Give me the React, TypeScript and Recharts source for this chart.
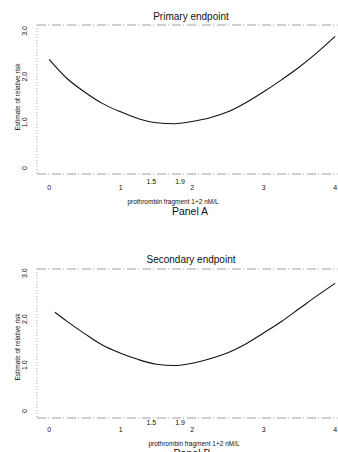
import React from "react";
import { LineChart, Line, XAxis, YAxis, ReferenceLine } from "recharts";

const xTicks = [0, 1, 1.5, 1.9, 2, 3, 4];
const yTicks = [0, 1, 2, 3];
const yTickLabels: Record<number, string> = { 0: "0", 1: "1.0", 2: "2.0", 3: "3.0" };

const primaryX = [0, 0.25, 0.5, 0.75, 1, 1.25, 1.5, 1.75, 2, 2.25, 2.5, 2.75, 3, 3.25, 3.5, 3.75, 4];
const primaryRisk = [2.38, 1.96, 1.66, 1.41, 1.23, 1.08, 0.99, 0.97, 1.02, 1.1, 1.23, 1.43, 1.67, 1.93, 2.21, 2.53, 2.88];

const secondaryX = [0.08, 0.25, 0.5, 0.75, 1, 1.25, 1.5, 1.75, 2, 2.25, 2.5, 2.75, 3, 3.25, 3.5, 3.75, 4];
const secondaryRisk = [2.15, 1.95, 1.68, 1.43, 1.26, 1.12, 1.02, 0.99, 1.04, 1.14, 1.27, 1.46, 1.7, 1.95, 2.23, 2.51, 2.78];

const titles = ["Primary endpoint", "Secondary endpoint"];
const xLabel = "prothrombin fragment 1+2 nM/L";
const yLabel = "Estimate of relative risk";
const panelLabels = ["Panel A", "Panel B"];

const FONT = "'Liberation Sans', Arial, Helvetica, sans-serif";
const DOT = "#a0a0a0";

const XTick = (props: any) => {
  const { x, y, payload, mainDy, minorDy } = props;
  const v = payload.value;
  const minor = v === 1.5 || v === 1.9;
  return (
    <text
      x={x + (minor ? -5 : 0)}
      y={y + (minor ? minorDy : mainDy)}
      textAnchor="middle"
      fontSize={7}
      fontFamily={FONT}
      fill="#111"
      stroke="none"
    >
      {String(v)}
    </text>
  );
};

const YTick = (props: any) => {
  const { y, payload } = props;
  return (
    <text
      transform={`translate(26.5, ${y}) rotate(-90)`}
      textAnchor="middle"
      fontSize={7}
      fontFamily={FONT}
      fill="#111"
      stroke="none"
    >
      {yTickLabels[payload.value] ?? String(payload.value)}
    </text>
  );
};

type PanelProps = {
  xs: number[];
  ys: number[];
  top: number;
  marginTop: number;
  xAxisHeight: number;
  yDomain: [number, number];
  mainDy: number;
  minorDy: number;
};

const Panel = ({ xs, ys, top, marginTop, xAxisHeight, yDomain, mainDy, minorDy }: PanelProps) => {
  const data = xs.map((x, i) => ({ x, risk: ys[i] }));
  return (
    <div style={{ position: "absolute", left: 0, top, width: 338, height: 226 }}>
      <LineChart width={338} height={226} data={data} margin={{ top: marginTop, right: 0, bottom: 0, left: 0 }}>
        <XAxis
          dataKey="x"
          type="number"
          domain={[-0.17, 4.04]}
          ticks={xTicks}
          interval={0}
          allowDataOverflow
          height={xAxisHeight}
          tickLine={false}
          tickSize={0}
          tickMargin={0}
          axisLine={{ stroke: DOT, strokeDasharray: "9 2 1 3", strokeWidth: 1 }}
          tick={<XTick mainDy={mainDy} minorDy={minorDy} />}
        />
        <YAxis
          type="number"
          domain={yDomain}
          ticks={yTicks}
          interval={0}
          allowDataOverflow
          width={37}
          tickLine={false}
          tickSize={0}
          tickMargin={0}
          axisLine={{ stroke: DOT, strokeDasharray: "1 2", strokeWidth: 1 }}
          tick={<YTick />}
        />
        <ReferenceLine y={yDomain[1]} stroke={DOT} strokeDasharray="9 2 1 3" strokeWidth={1} ifOverflow="visible" />
        <Line
          type="monotone"
          dataKey="risk"
          stroke="#111"
          strokeWidth={1.1}
          dot={false}
          isAnimationActive={false}
        />
      </LineChart>
    </div>
  );
};

export default function App() {
  return (
    <div style={{ position: "absolute", left: 0, top: 0, width: 338, height: 452, overflow: "hidden", background: "#fff" }}>
      <Panel
        xs={primaryX}
        ys={primaryRisk}
        top={0}
        marginTop={25}
        xAxisHeight={52}
        yDomain={[-0.13, 3.13]}
        mainDy={16}
        minorDy={10}
      />
      <Panel
        xs={secondaryX}
        ys={secondaryRisk}
        top={226}
        marginTop={43}
        xAxisHeight={34}
        yDomain={[-0.15, 3.09]}
        mainDy={14}
        minorDy={7}
      />
      <svg width={338} height={452} style={{ position: "absolute", left: 0, top: 0, pointerEvents: "none" }}>
        <g fontFamily={FONT} fill="#111">
          <text x={191} y={20} textAnchor="middle" fontSize={10}>{titles[0]}</text>
          <text x={173} y={204} textAnchor="middle" fontSize={6.5}>{xLabel}</text>
          <text x={190} y={215} textAnchor="middle" fontSize={10.5}>{panelLabels[0]}</text>
          <text transform="translate(19.5, 97) rotate(-90)" textAnchor="middle" fontSize={6.5}>{yLabel}</text>

          <text x={191} y={263} textAnchor="middle" fontSize={10}>{titles[1]}</text>
          <text x={194} y={446} textAnchor="middle" fontSize={6.5}>{xLabel}</text>
          <text x={192} y={457} textAnchor="middle" fontSize={10.5}>{panelLabels[1]}</text>
          <text transform="translate(19.5, 347) rotate(-90)" textAnchor="middle" fontSize={6.5}>{yLabel}</text>
        </g>
      </svg>
    </div>
  );
}
